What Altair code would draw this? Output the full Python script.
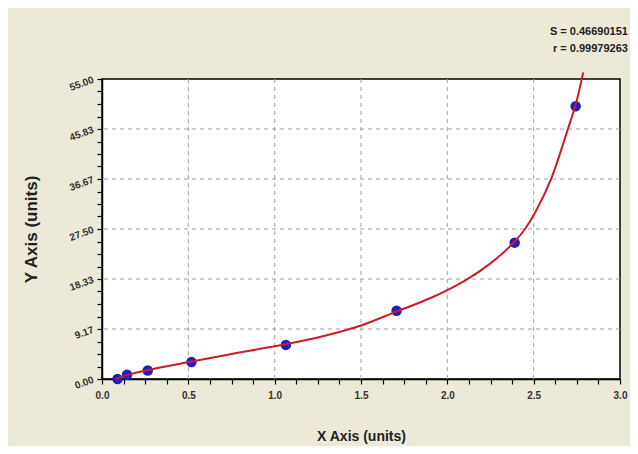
import altair as alt
import pandas as pd

# Standard points (x = OD reading, y = concentration)
x_pts = [0.09, 0.145, 0.265, 0.518, 1.065, 1.706, 2.39, 2.743]
y_pts = [0.0, 0.78, 1.56, 3.12, 6.25, 12.5, 25.0, 50.0]

# Fitted curve
curve_x = [0.08, 0.15, 0.26, 0.52, 0.75, 1.0, 1.25, 1.5, 1.7, 1.9, 2.1, 2.25,
           2.39, 2.45, 2.51, 2.6, 2.7, 2.745, 2.787]
curve_y = [0.0, 0.75, 1.6, 3.2, 4.6, 6.0, 7.6, 9.8, 12.3, 14.8, 18.0, 21.2,
           25.2, 27.5, 30.6, 36.6, 46.0, 50.5, 56.2]

# Axis ticks
x_major = [0.5, 1.0, 1.5, 2.0, 2.5]
y_major = [9.1667, 18.3333, 27.5, 36.6667, 45.8333]
x_ticks = [i * 0.125 for i in range(25)]
y_ticks = [i * 55 / 24 for i in range(25)]

stats_text = ["S = 0.46690151", "r = 0.99979263"]

pts = pd.DataFrame({"x": x_pts, "y": y_pts})
curve = pd.DataFrame({"x": curve_x, "y": curve_y, "o": list(range(len(curve_x)))})
gx = pd.DataFrame({"x": x_major})
gy = pd.DataFrame({"y": y_major})

FONT = "Liberation Sans Narrow, Arial Narrow, Liberation Sans, Arial"

x_scale = alt.Scale(domain=[0, 3], nice=False, zero=False)
y_scale = alt.Scale(domain=[0, 55], nice=False)

x_axis = alt.Axis(
    title="X Axis (units)", values=x_ticks, grid=False,
    labelExpr="abs(datum.value*2 - round(datum.value*2)) < 0.001 ? format(datum.value, '.1f') : ''",
    labelOverlap=False, labelFlush=False, tickSize=5, tickColor="black", tickWidth=1.2,
    domainColor="black", domainWidth=1.5, labelFont="Liberation Sans", labelFontWeight="bold",
    labelFontSize=10, labelColor="#333333", labelPadding=6,
    titleFont=FONT, titleFontSize=14, titleFontWeight="bold", titleColor="#222222",
    titlePadding=29,
)
y_axis = alt.Axis(
    title="Y Axis (units)", values=y_ticks, grid=False,
    labelExpr="abs(datum.value*6/55 - round(datum.value*6/55)) < 0.001 ? format(datum.value, '.2f') : ''",
    labelOverlap=False, labelFlush=False, tickSize=5, tickColor="black", tickWidth=1.2,
    domainColor="black", domainWidth=1.5, labelFont=FONT, labelFontWeight="bold",
    labelFontSize=10, labelColor="#333333", labelAngle=340, labelPadding=4,
    titleFont="Liberation Sans", titleFontSize=17, titleFontWeight="bold", titleColor="#222222",
    titlePadding=27,
)

X = alt.X("x:Q", scale=x_scale, axis=x_axis)
Y = alt.Y("y:Q", scale=y_scale, axis=y_axis)

grid_x = alt.Chart(gx).mark_rule(color="#A0A0A0", strokeDash=[4, 4], strokeWidth=1).encode(x=X)
grid_y = alt.Chart(gy).mark_rule(color="#A0A0A0", strokeDash=[4, 4], strokeWidth=1).encode(y=Y)

points = alt.Chart(pts).mark_circle(size=110, color="#1E1EC4", opacity=1).encode(x=X, y=Y)
line = alt.Chart(curve).mark_line(color="#C81E28", strokeWidth=2, clip=False,
                                  interpolate="catmull-rom").encode(x=X, y=Y, order="o:Q")

chart = alt.layer(grid_x, grid_y, points, line).properties(
    width=518, height=300,
    padding={"left": 94, "top": 71, "right": 10, "bottom": 67},
    autosize=alt.AutoSizeParams(type="none"),
    background="#ECE9D8",
    title=alt.TitleParams(
        text=stats_text, anchor="end", align="right", font=FONT, fontSize=11,
        fontWeight="bold", color="#222222", lineHeight=17, offset=14, dx=1,
    ),
).configure_view(stroke="black", strokeWidth=1.5, fill="white")

chart.save("out.html", embed_options={"renderer": "svg", "actions": False})
